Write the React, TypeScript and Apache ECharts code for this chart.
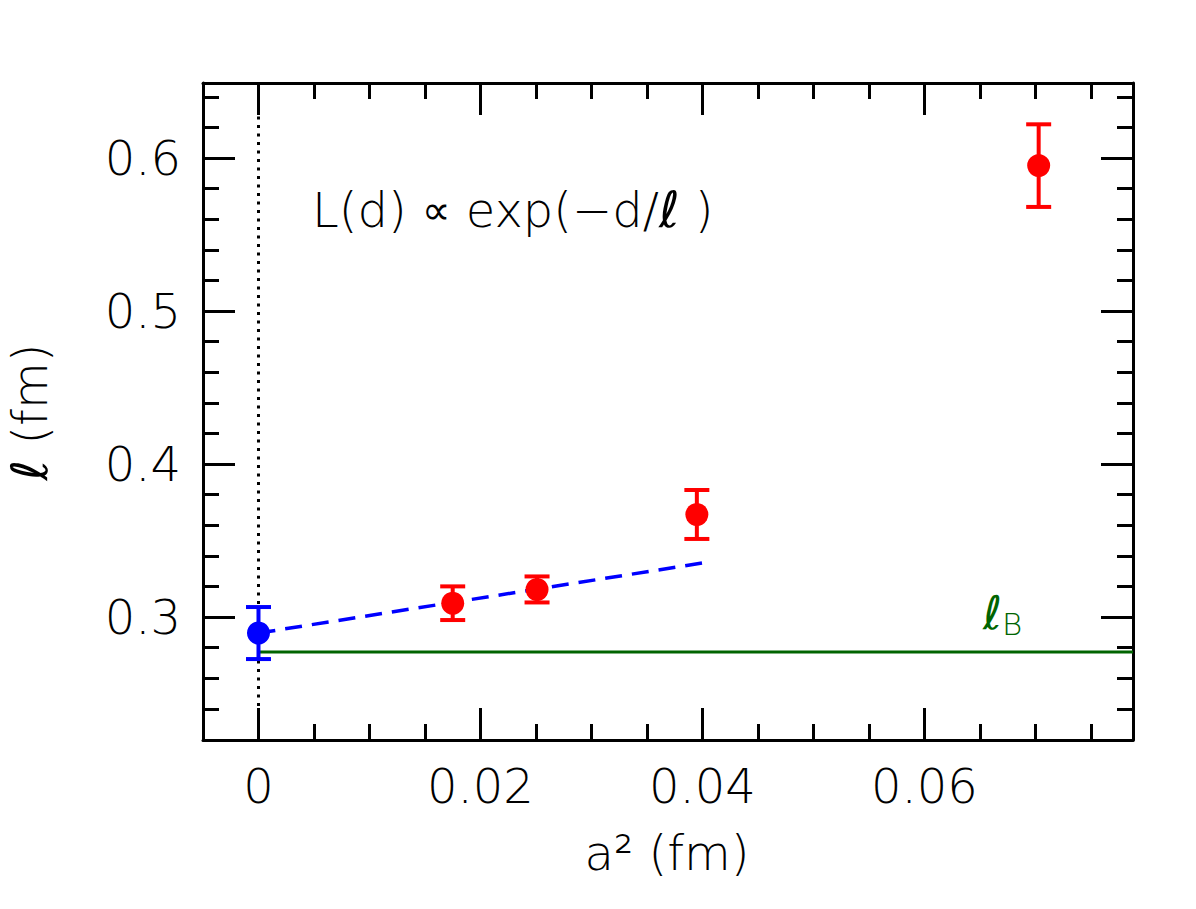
import React, { useEffect, useRef } from "react";
import * as echarts from "echarts";

// lattice spacing squared (fm^2) and fitted length scale (fm)
const redX = [0.0175, 0.0251, 0.0395, 0.0703];
const redY = [0.309, 0.318, 0.367, 0.595];
const redErr = [0.011, 0.0085, 0.016, 0.027];

const contX = [0];
const contY = [0.2895];
const contErr = [0.017];

const fitX = [0, 0.04];
const fitY = [0.2895, 0.3353];

const bagLevel = 0.2771;

const xMajor = [0, 0.02, 0.04, 0.06];
const xMinor = [0.005, 0.01, 0.015, 0.025, 0.03, 0.035, 0.045, 0.05, 0.055, 0.065, 0.07, 0.075];
const yMajor = [0.3, 0.4, 0.5, 0.6];
const yMinor = [0.24, 0.26, 0.28, 0.32, 0.34, 0.36, 0.38, 0.42, 0.44, 0.46, 0.48, 0.52, 0.54, 0.56, 0.58, 0.62, 0.64];

const X_MIN = -0.005;
const X_MAX = 0.0788;
const Y_MIN = 0.2196;
const Y_MAX = 0.649;

const FONT = "DejaVu Sans";
const WEIGHT = 300;
const INK = "#000";
const GREEN = "#006400";

function errorBars(xs: number[], ys: number[], es: number[], color: string) {
  return {
    type: "custom",
    xAxisIndex: 0,
    yAxisIndex: 0,
    z: 4,
    data: xs.map((x, i) => [x, ys[i] - es[i], ys[i] + es[i]]),
    renderItem: (_params: any, api: any) => {
      const lo = api.coord([api.value(0), api.value(1)]);
      const hi = api.coord([api.value(0), api.value(2)]);
      const hw = 12.5;
      const st = { stroke: color, lineWidth: 4 };
      return {
        type: "group",
        children: [
          { type: "line", shape: { x1: lo[0], y1: lo[1], x2: hi[0], y2: hi[1] }, style: st },
          { type: "line", shape: { x1: lo[0] - hw, y1: lo[1], x2: lo[0] + hw, y2: lo[1] }, style: st },
          { type: "line", shape: { x1: hi[0] - hw, y1: hi[1], x2: hi[0] + hw, y2: hi[1] }, style: st },
        ],
      };
    },
  };
}

function xAxisDef(pos: "top" | "bottom", ticks: number[], len: number, withLabels: boolean, withLine: boolean) {
  return {
    type: "value",
    position: pos,
    min: X_MIN,
    max: X_MAX,
    axisLine: { show: withLine, onZero: false, lineStyle: { color: INK, width: 3 } },
    axisTick: { show: true, inside: true, length: len, customValues: ticks, lineStyle: { color: INK, width: 3 } },
    axisLabel: {
      show: withLabels,
      customValues: ticks,
      margin: 22,
      color: INK,
      fontFamily: FONT,
      fontWeight: WEIGHT,
      fontSize: 48,
      formatter: (v: number) => (v === 0 ? "0" : String(+v.toFixed(3))),
    },
    splitLine: { show: false },
  };
}

function yAxisDef(pos: "left" | "right", ticks: number[], len: number, withLabels: boolean, withLine: boolean) {
  return {
    type: "value",
    position: pos,
    min: Y_MIN,
    max: Y_MAX,
    axisLine: { show: withLine, onZero: false, lineStyle: { color: INK, width: 3 } },
    axisTick: { show: true, inside: true, length: len, customValues: ticks, lineStyle: { color: INK, width: 3 } },
    axisLabel: {
      show: withLabels,
      customValues: ticks,
      margin: 22,
      color: INK,
      fontFamily: FONT,
      fontWeight: WEIGHT,
      fontSize: 48,
      formatter: (v: number) => String(+v.toFixed(2)),
    },
    splitLine: { show: false },
  };
}

const ellStyle = (fill: string, size: number) => ({
  fontFamily: FONT,
  fontSize: size,
  fontStyle: "italic",
  fontWeight: "normal",
  fill,
});

export default function App() {
  const ref = useRef<HTMLDivElement>(null);

  useEffect(() => {
    if (!ref.current) return;
    const chart = echarts.init(ref.current, null, { renderer: "svg" });
    chart.setOption({
      animation: false,
      backgroundColor: "#fff",
      grid: { left: 203, top: 83, right: 63, bottom: 169, containLabel: false },
      xAxis: [
        xAxisDef("bottom", xMajor, 32, true, true),
        xAxisDef("bottom", xMinor, 16, false, false),
        xAxisDef("top", xMajor, 32, false, true),
        xAxisDef("top", xMinor, 16, false, false),
      ],
      yAxis: [
        yAxisDef("left", yMajor, 32, true, true),
        yAxisDef("left", yMinor, 16, false, false),
        yAxisDef("right", yMajor, 32, false, true),
        yAxisDef("right", yMinor, 16, false, false),
      ],
      graphic: [
        {
          type: "text",
          left: 312,
          top: 185,
          style: {
            text: "L(d) {p|∝} exp(−d/{l|ℓ} )",
            fontFamily: FONT,
            fontWeight: WEIGHT,
            fontSize: 48,
            fill: INK,
            rich: {
              l: ellStyle(INK, 50),
              p: { fontFamily: FONT, fontWeight: "normal", fontSize: 40, fill: INK },
            },
          },
        },
        {
          type: "text",
          left: 983,
          top: 590,
          style: {
            text: "{l|ℓ}{b|B}",
            fill: GREEN,
            rich: {
              l: ellStyle(GREEN, 46),
              b: { fontFamily: FONT, fontWeight: WEIGHT, fontSize: 31, fill: GREEN, padding: [22, 0, 0, 0] },
            },
          },
        },
        {
          type: "text",
          x: 667,
          y: 853,
          style: {
            text: "a² (fm)",
            fontFamily: FONT,
            fontWeight: WEIGHT,
            fontSize: 48,
            fill: INK,
            align: "center",
            verticalAlign: "middle",
          },
        },
        {
          type: "text",
          x: 30,
          y: 412,
          rotation: Math.PI / 2,
          style: {
            text: "{l|ℓ} (fm)",
            fontFamily: FONT,
            fontWeight: WEIGHT,
            fontSize: 48,
            fill: INK,
            align: "center",
            verticalAlign: "middle",
            rich: { l: ellStyle(INK, 50) },
          },
        },
      ],
      series: [
        {
          type: "line",
          xAxisIndex: 0,
          yAxisIndex: 0,
          z: 1,
          symbol: "none",
          data: [
            [0, Y_MIN],
            [0, Y_MAX],
          ],
          lineStyle: { color: INK, width: 3, type: [3, 5.5] },
        },
        {
          type: "line",
          xAxisIndex: 0,
          yAxisIndex: 0,
          z: 2,
          symbol: "none",
          data: [
            [0, bagLevel],
            [X_MAX, bagLevel],
          ],
          lineStyle: { color: GREEN, width: 3 },
        },
        {
          type: "line",
          xAxisIndex: 0,
          yAxisIndex: 0,
          z: 2,
          symbol: "none",
          data: fitX.map((x, i) => [x, fitY[i]]),
          lineStyle: { color: "#0000ff", width: 3.5, type: [17, 10] },
        },
        errorBars(redX, redY, redErr, "#ff0000"),
        errorBars(contX, contY, contErr, "#0000ff"),
        {
          type: "scatter",
          xAxisIndex: 0,
          yAxisIndex: 0,
          z: 5,
          symbol: "circle",
          symbolSize: 23,
          itemStyle: { color: "#ff0000", opacity: 1 },
          data: redX.map((x, i) => [x, redY[i]]),
        },
        {
          type: "scatter",
          xAxisIndex: 0,
          yAxisIndex: 0,
          z: 5,
          symbol: "circle",
          symbolSize: 23,
          itemStyle: { color: "#0000ff", opacity: 1 },
          data: contX.map((x, i) => [x, contY[i]]),
        },
      ],
    });
    return () => chart.dispose();
  }, []);

  return (
    <div
      ref={ref}
      style={{ position: "fixed", left: 0, top: 0, width: 1196, height: 909, background: "#fff" }}
    />
  );
}
